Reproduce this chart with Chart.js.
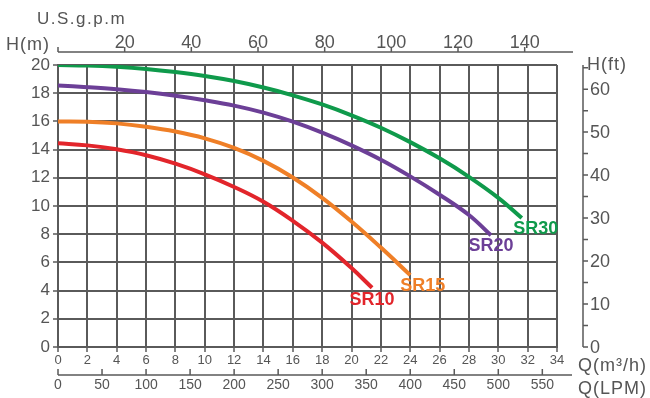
<!DOCTYPE html>
<html>
<head>
<meta charset="utf-8">
<script src="https://cdn.jsdelivr.net/npm/chart.js@4/dist/chart.umd.min.js"></script>
<style>
  html, body { margin: 0; padding: 0; background: #fff; }
  #wrap { width: 650px; height: 398px; }
</style>
</head>
<body>
<div id="wrap"><canvas id="pumpChart" width="650" height="398"></canvas></div>
<script>
// flow in m3/h, head in m
const Q_SR10 = [0, 2, 4, 6, 8, 10, 12, 14, 16, 18, 20, 21.4];
const H_SR10 = [14.45, 14.3, 14.02, 13.6, 13.0, 12.25, 11.35, 10.3, 8.95, 7.4, 5.6, 4.2];

const Q_SR15 = [0, 2, 4, 6, 8, 10, 12, 14, 16, 18, 20, 22, 24];
const H_SR15 = [16.0, 15.98, 15.86, 15.62, 15.28, 14.8, 14.12, 13.2, 12.02, 10.58, 8.9, 7.05, 5.1];

const Q_SR20 = [0, 2, 4, 6, 8, 10, 12, 14, 16, 18, 20, 22, 24, 26, 28, 29.5];
const H_SR20 = [18.55, 18.43, 18.28, 18.08, 17.82, 17.5, 17.12, 16.62, 15.98, 15.2, 14.3, 13.28, 12.1, 10.8, 9.36, 7.92];

const Q_SR30 = [0, 2, 4, 6, 8, 10, 12, 14, 16, 18, 20, 22, 24, 26, 28, 30, 31.6];
const H_SR30 = [20.0, 19.96, 19.87, 19.72, 19.5, 19.22, 18.86, 18.4, 17.85, 17.2, 16.43, 15.55, 14.53, 13.38, 12.07, 10.58, 9.15];

const SERIES_NAMES = ["SR10", "SR15", "SR20", "SR30"];
const SERIES_COLORS = ["#e2252b", "#ef7f27", "#6c3f97", "#0f9a4b"];
// where each name sits, in (m3/h, m)
const LABEL_Q = [21.4, 24.85, 29.5, 32.55];
const LABEL_H = [3.3, 4.3, 7.15, 8.4];

// extra axes
const GPM_TICKS = [0, 20, 40, 60, 80, 100, 120, 140];
const LPM_TICKS = [0, 50, 100, 150, 200, 250, 300, 350, 400, 450, 500, 550];
const FT_TICKS = [0, 5, 10, 15, 20, 25, 30, 35, 40, 45, 50, 55, 60, 65];

const Q_MAX = 34;
const H_MAX = 20;
const GPM_PER_M3H = 4.40287;
const LPM_PER_M3H = 16.6667;
const FT_PER_M = 3.28084;

const GRID = "#5a5a5a";
const TEXT = "#555";
const FONT = "'Liberation Sans', Arial, sans-serif";

function pairs(qs, hs) {
  return qs.map((q, i) => ({ x: q, y: hs[i] }));
}

const curves = [
  pairs(Q_SR10, H_SR10),
  pairs(Q_SR15, H_SR15),
  pairs(Q_SR20, H_SR20),
  pairs(Q_SR30, H_SR30)
];

const extraAxes = {
  id: "extraAxes",
  afterDraw(chart) {
    const ctx = chart.ctx;
    const { xTop, xLpm, yFt, x, y } = chart.scales;
    ctx.save();
    ctx.strokeStyle = GRID;
    ctx.fillStyle = TEXT;
    ctx.lineWidth = 1.5;

    // top axis: U.S. gpm
    const topY = 52;
    ctx.beginPath();
    ctx.moveTo(x.left, topY);
    ctx.lineTo(573, topY);
    GPM_TICKS.forEach(g => {
      const px = xTop.getPixelForValue(g);
      ctx.moveTo(px, topY);
      ctx.lineTo(px, topY - 5);
    });
    ctx.stroke();
    ctx.font = "18px " + FONT;
    ctx.textAlign = "center";
    ctx.textBaseline = "alphabetic";
    GPM_TICKS.forEach(g => {
      if (g === 0) return;
      ctx.fillText(String(g), xTop.getPixelForValue(g), 48);
    });

    // bottom axis: LPM
    const lpmY = 375;
    ctx.beginPath();
    ctx.moveTo(x.left, lpmY);
    ctx.lineTo(572, lpmY);
    LPM_TICKS.forEach(v => {
      const px = xLpm.getPixelForValue(v);
      ctx.moveTo(px, lpmY);
      ctx.lineTo(px, lpmY - 6);
    });
    ctx.stroke();
    ctx.font = "14px " + FONT;
    LPM_TICKS.forEach(v => {
      ctx.fillText(String(v), xLpm.getPixelForValue(v), 389);
    });

    // right axis: feet
    const ftX = 583;
    ctx.beginPath();
    ctx.moveTo(ftX, yFt.getPixelForValue(0));
    ctx.lineTo(ftX, yFt.getPixelForValue(H_MAX * FT_PER_M));
    FT_TICKS.forEach(f => {
      const py = yFt.getPixelForValue(f);
      ctx.moveTo(ftX, py);
      ctx.lineTo(ftX + 5, py);
    });
    ctx.stroke();
    ctx.font = "18px " + FONT;
    ctx.textAlign = "left";
    ctx.textBaseline = "middle";
    FT_TICKS.forEach(f => {
      if (f % 10 !== 0) return;
      ctx.fillText(String(f), ftX + 7, yFt.getPixelForValue(f) + 1);
    });

    // axis titles
    ctx.textBaseline = "alphabetic";
    ctx.font = "17px " + FONT;
    ctx.letterSpacing = "1.5px";
    ctx.fillText("U.S.g.p.m", 37, 24);
    ctx.letterSpacing = "1px";
    ctx.font = "18px " + FONT;
    ctx.fillText("H(m)", 6, 50);
    ctx.fillText("H(ft)", 587, 70);
    ctx.fillText("Q(m³/h)", 578, 371);
    ctx.fillText("Q(LPM)", 578, 394);
    ctx.letterSpacing = "0px";

    // curve names
    ctx.font = "bold 18px " + FONT;
    ctx.textAlign = "center";
    ctx.textBaseline = "middle";
    SERIES_NAMES.forEach((name, i) => {
      ctx.fillStyle = SERIES_COLORS[i];
      ctx.fillText(name, x.getPixelForValue(LABEL_Q[i]), y.getPixelForValue(LABEL_H[i]));
    });
    ctx.restore();
  }
};

const chart = new Chart(document.getElementById("pumpChart"), {
  type: "line",
  data: {
    datasets: curves.map((pts, i) => ({
      label: SERIES_NAMES[i],
      data: pts,
      borderColor: SERIES_COLORS[i],
      backgroundColor: SERIES_COLORS[i],
      borderWidth: 4,
      pointRadius: 0,
      tension: 0.4,
      fill: false
    }))
  },
  options: {
    responsive: false,
    animation: false,
    events: [],
    layout: { padding: { top: 65, right: 93, left: 0, bottom: 0 } },
    plugins: { legend: { display: false }, tooltip: { enabled: false } },
    scales: {
      x: {
        type: "linear",
        position: "bottom",
        min: 0,
        max: Q_MAX,
        ticks: { stepSize: 2, color: TEXT, font: { size: 13, family: FONT }, padding: 1, maxRotation: 0 },
        grid: { color: GRID, lineWidth: 2, tickLength: 5, tickWidth: 1.5, tickColor: GRID },
        border: { color: GRID, width: 2 },
        afterFit(scale) { scale.height = 51; }
      },
      y: {
        type: "linear",
        position: "left",
        min: 0,
        max: H_MAX,
        ticks: { stepSize: 2, color: TEXT, font: { size: 17, family: FONT }, padding: 3 },
        grid: { color: GRID, lineWidth: 2, tickLength: 5, tickWidth: 1.5, tickColor: GRID },
        border: { color: GRID, width: 2 },
        afterFit(scale) { scale.width = 58; }
      },
      xTop: { type: "linear", position: "top", display: false, min: 0, max: Q_MAX * GPM_PER_M3H },
      xLpm: { type: "linear", position: "bottom", display: false, min: 0, max: Q_MAX * LPM_PER_M3H },
      yFt: { type: "linear", position: "right", display: false, min: 0, max: H_MAX * FT_PER_M }
    }
  },
  plugins: [extraAxes]
});
</script>
</body>
</html>
